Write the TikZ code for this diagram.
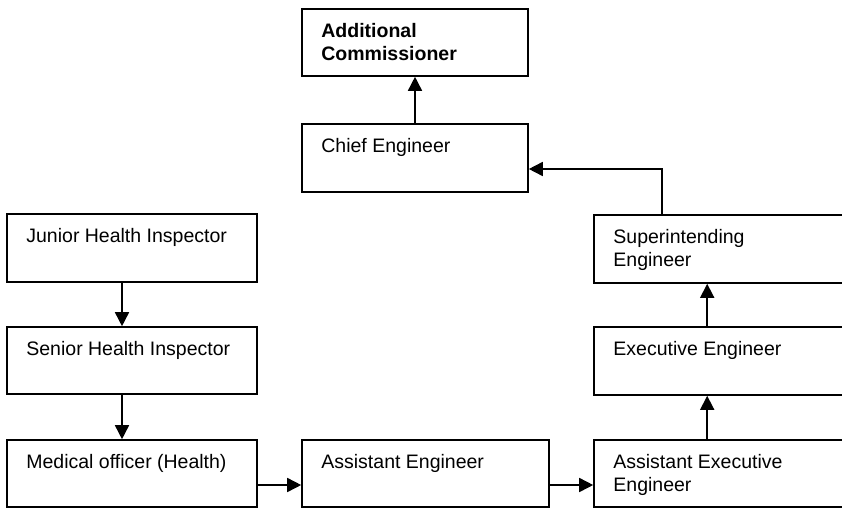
\documentclass[tikz,border=0pt]{standalone}
\usepackage{fontspec}
\setmainfont{Liberation Sans}
\usetikzlibrary{arrows.meta}
\begin{document}
\begin{tikzpicture}[x=1pt,y=-1pt,
  post/.style={draw=black,line width=1.6pt,rectangle,inner sep=0pt},
  caption/.style={anchor=base west,inner sep=0pt,align=left,
    font=\fontsize{19.5}{23}\selectfont},
  arr/.style={line width=1.6pt,-{Triangle[length=14pt,width=14pt]}}]
\useasboundingbox (0,0) rectangle (842,508);
\clip (0,0) rectangle (842,508);
\fill[white] (0,0) rectangle (842,508);

% boxes
\node[post,minimum width=226pt,minimum height=67pt] (ac) at (415,42.5) {};
\node[post,minimum width=226pt,minimum height=68pt] (ce) at (415,158) {};
\node[post,minimum width=250pt,minimum height=68pt] (jhi) at (132,248) {};
\node[post,minimum width=250pt,minimum height=67pt] (shi) at (132,360.5) {};
\node[post,minimum width=250pt,minimum height=67pt] (mo) at (132,473.5) {};
\node[post,minimum width=247pt,minimum height=67pt] (ae) at (425.5,473.5) {};
\node[post,minimum width=266pt,minimum height=67pt] (aee) at (727,473.5) {};
\node[post,minimum width=266pt,minimum height=68pt] (ee) at (727,361) {};
\node[post,minimum width=266pt,minimum height=68pt] (se) at (727,249) {};

% labels (anchored on the baseline of their last line)
\node[caption] (tac) at ([shift={(20,52)}]ac.north west) {\bfseries Additional\\\bfseries Commissioner};
\node[caption] (tce) at ([shift={(20,29)}]ce.north west) {Chief Engineer};
\node[caption] (tjhi) at ([shift={(20,29)}]jhi.north west) {Junior Health Inspector};
\node[caption] (tshi) at ([shift={(20,29)}]shi.north west) {Senior Health Inspector};
\node[caption] (tmo) at ([shift={(20,29)}]mo.north west) {Medical officer (Health)};
\node[caption] (tae) at ([shift={(20,29)}]ae.north west) {Assistant Engineer};
\node[caption] (taee) at ([shift={(20,52)}]aee.north west) {Assistant Executive\\Engineer};
\node[caption] (tee) at ([shift={(20,29)}]ee.north west) {Executive Engineer};
\node[caption] (tse) at ([shift={(20,52)}]se.north west) {Superintending\\Engineer};

% connectors
\draw[arr] (ce.north) -- (ac.south);
\draw[arr] ([xshift=69pt]se.north west) |- ([yshift=-11pt]ce.east);
\draw[arr] ([xshift=-10pt]jhi.south) -- ([xshift=-10pt]shi.north);
\draw[arr] ([xshift=-10pt]shi.south) -- ([xshift=-10pt]mo.north);
\draw[arr] ([yshift=-11.5pt]mo.east) -- ([yshift=-11.5pt]ae.west);
\draw[arr] ([yshift=-11.5pt]ae.east) -- ([yshift=-11.5pt]aee.west);
\draw[arr] ([xshift=114pt]aee.north west) -- ([xshift=114pt]ee.south west);
\draw[arr] ([xshift=114pt]ee.north west) -- ([xshift=114pt]se.south west);
\end{tikzpicture}
\end{document}
